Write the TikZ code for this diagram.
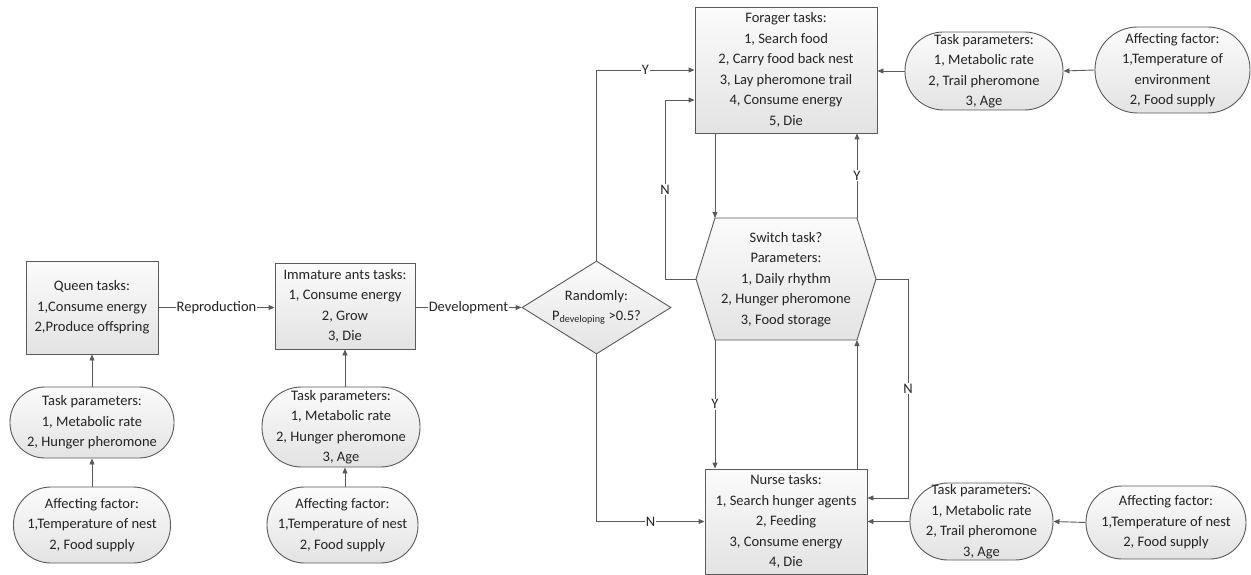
\documentclass[tikz,border=0pt]{standalone}
\usepackage{fontspec}
\setmainfont{Carlito}
\usetikzlibrary{arrows.meta,shapes.misc,shapes.geometric}
\definecolor{linec}{RGB}{90,90,90}
\definecolor{txtc}{RGB}{35,35,35}
\tikzset{
  base/.style={draw=linec, line width=0.9pt, top color=gray!3, bottom color=gray!22,
    text=txtc, align=center, inner sep=0pt, font=\fontsize{14.5}{20.5}\selectfont},
  taskbox/.style={base, rectangle},
  pill/.style={base, rectangle, rounded corners=#1},
  arr/.style={draw=linec, line width=0.9pt, -{Triangle[length=6pt,width=5pt]}},
  lab/.style={fill=white, inner sep=1pt, text=txtc, font=\fontsize{14.5}{16}\selectfont},
}
\begin{document}
\begin{tikzpicture}[x=1pt,y=-1pt]
\useasboundingbox (0,0) rectangle (1251,575);
% left part
\node[taskbox, minimum width=132pt, minimum height=93pt] (queen) at (92,307.5)
  {Queen tasks:\\1,Consume energy\\2,Produce offspring};
\node[pill=35pt, minimum width=164pt, minimum height=71pt] (qparam) at (92,422.5)
  {Task parameters:\\1, Metabolic rate\\2, Hunger pheromone};
\node[pill=37.5pt, minimum width=157pt, minimum height=76pt] (qaff) at (92,525)
  {Affecting factor:\\1,Temperature of nest\\2, Food supply};
\node[taskbox, minimum width=140pt, minimum height=86pt] (imm) at (345,306)
  {Immature ants tasks:\\1, Consume energy\\2, Grow\\3, Die};
\node[pill=39.5pt, minimum width=158pt, minimum height=80pt] (iparam) at (341,427)
  {Task parameters:\\1, Metabolic rate\\2, Hunger pheromone\\3, Age};
\node[pill=37.5pt, minimum width=151pt, minimum height=76pt] (iaff) at (342.5,525)
  {Affecting factor:\\1,Temperature of nest\\2, Food supply};
\node[base, diamond, aspect=1.6, minimum width=149pt, minimum height=93pt] (dia) at (596.5,307.5)
  {Randomly:\\P\textsubscript{developing} >0.5?};
% right part
\node[taskbox, minimum width=182pt, minimum height=126pt] (forager) at (786,70)
  {Forager tasks:\\1, Search food\\2, Carry food back nest\\3, Lay pheromone trail\\4, Consume energy\\5, Die};
\node[pill=38.5pt, minimum width=158pt, minimum height=78pt] (fparam) at (984,71)
  {Task parameters:\\1, Metabolic rate\\2, Trail pheromone\\3, Age};
\node[pill=42.5pt, minimum width=155pt, minimum height=86pt] (faff) at (1172.5,70)
  {Affecting factor:\\1,Temperature of\\environment\\2, Food supply};
\node[taskbox, minimum width=162pt, minimum height=105pt] (nurse) at (786,521.5)
  {Nurse tasks:\\1, Search hunger agents\\2, Feeding\\3, Consume energy\\4, Die};
\node[pill=38pt, minimum width=143pt, minimum height=77pt] (nparam) at (981.5,521.5)
  {Task parameters:\\1, Metabolic rate\\2, Trail pheromone\\3, Age};
\node[pill=36pt, minimum width=160pt, minimum height=73pt] (naff) at (1166,522.5)
  {Affecting factor:\\1,Temperature of nest\\2, Food supply};
% switch hexagon
\coordinate (hextl) at (715,218);
\coordinate (hextr) at (857,218);
\coordinate (hexr) at (876,279);
\coordinate (hexbr) at (857,340);
\coordinate (hexbl) at (715,340);
\coordinate (hexl) at (696,279);
\draw[draw=linec, line width=0.9pt, top color=gray!3, bottom color=gray!22]
  (hextl) -- (hextr) -- (hexr) -- (hexbr) -- (hexbl) -- (hexl) -- cycle;
\node[text=txtc, align=center, inner sep=0pt, font=\fontsize{14.5}{20.5}\selectfont] (sw) at (786,279.5)
  {Switch task?\\Parameters:\\1, Daily rhythm\\2, Hunger pheromone\\3, Food storage};
\coordinate (nl) at (665,100);
\coordinate (nr) at (908,498);
% connectors
\draw[arr] (qparam.north) -- (queen.south);
\draw[arr] (qaff.north) -- (qparam.south);
\draw[arr] (imm.south |- iparam.north) -- (imm.south);
\draw[arr] (imm.south |- iaff.north) -- (imm.south |- iparam.south);
\draw[arr] (queen.east) -- node[lab]{Reproduction} (imm.west |- queen.east);
\draw[arr] (imm.east |- dia.west) -- node[lab]{Development} (dia.west);
\draw[arr] (dia.north) |- node[lab,pos=0.75]{Y} (forager.west);
\draw[arr] (dia.south) |- node[lab,pos=0.75]{N} (nurse.west);
\draw[arr] (fparam.west) -- (forager.east |- fparam.west);
\draw[arr] (faff.west) -- (fparam.east);
\draw[arr] (nparam.west) -- (nurse.east |- nparam.west);
\draw[arr] (naff.west) -- (nparam.east);
\draw[arr] (forager.south -| hextl) -- (hextl);
\draw[arr] (hextr) -- node[lab]{Y} (forager.south -| hextr);
\draw[arr] (hexl) -| node[lab,pos=0.75]{N} (nl) -- (forager.west |- nl);
\draw[arr] (hexr) -| node[lab,pos=0.75]{N} (nr) -- (nurse.east |- nr);
\draw[arr] (hexbl) -- node[lab]{Y} (hexbl |- nurse.north);
\draw[arr] (nurse.north -| hexbr) -- (hexbr);
\end{tikzpicture}
\end{document}
